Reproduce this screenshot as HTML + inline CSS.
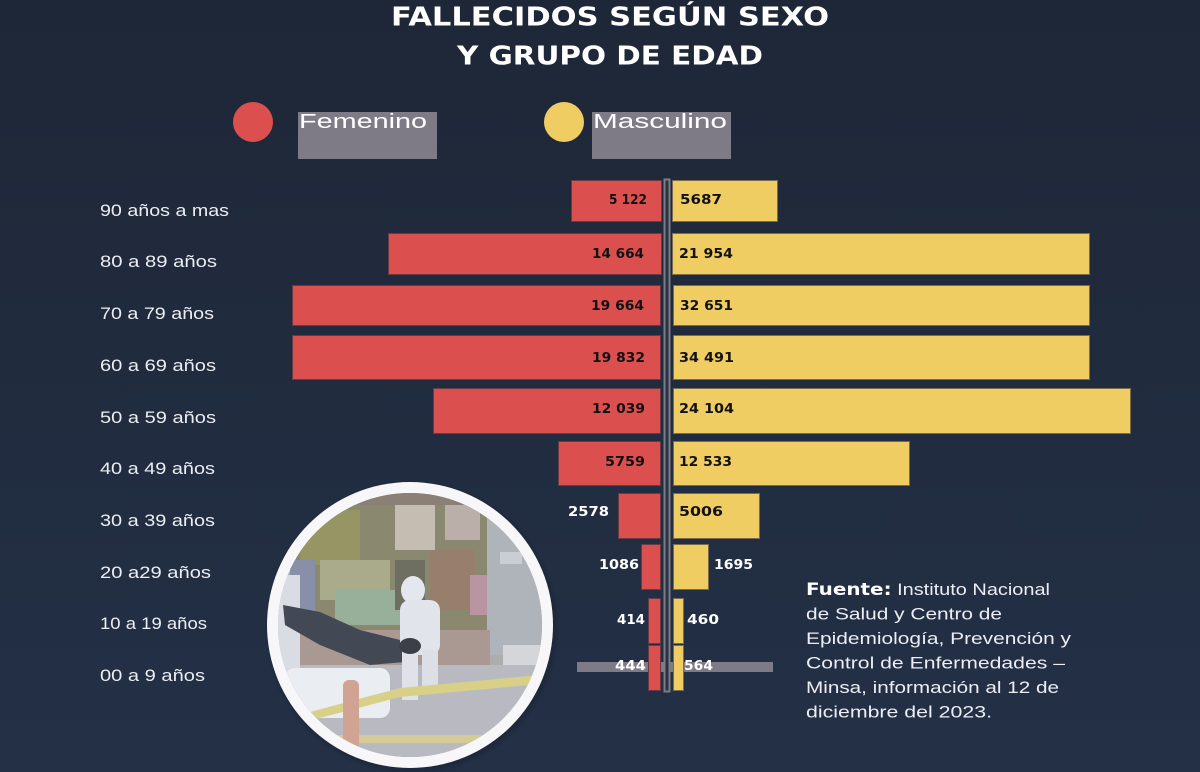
<!DOCTYPE html>
<html>
<head>
<meta charset="utf-8">
<style>
html,body{margin:0;padding:0;}
body{width:1200px;height:772px;overflow:hidden;background:#20293b;}
svg{display:block;}
.t{font-family:"DejaVu Sans","Liberation Sans",sans-serif;font-weight:bold;fill:#fff;}
.lab{font-family:"Liberation Sans",sans-serif;font-size:17px;fill:#eceef3;}
.v{font-family:"DejaVu Sans","Liberation Sans",sans-serif;font-weight:bold;font-size:13px;}
.vb{fill:#111;}
.vw{fill:#fff;}
.src{font-family:"Liberation Sans",sans-serif;font-size:17px;fill:#eceef3;}
.rb{fill:#dc4f4f;stroke:#6a3a42;stroke-width:1;}
.yb{fill:#f0cd62;stroke:#7c6c4c;stroke-width:1;}
</style>
</head>
<body>
<svg width="1200" height="772" viewBox="0 0 1200 772" xmlns="http://www.w3.org/2000/svg">
<defs>
<linearGradient id="bg" x1="0" y1="0" x2="0" y2="1">
<stop offset="0" stop-color="#1e2737"/>
<stop offset="1" stop-color="#233046"/>
</linearGradient>
<clipPath id="cp"><circle cx="410" cy="625" r="132"/></clipPath>
<radialGradient id="sh" cx="0.5" cy="0.5" r="0.5">
<stop offset="0.9" stop-color="#000" stop-opacity="0.35"/>
<stop offset="1" stop-color="#000" stop-opacity="0"/>
</radialGradient>
</defs>
<rect width="1200" height="772" fill="url(#bg)"/>

<!-- Title -->
<text class="t" x="391" y="25.5" font-size="26" textLength="438" lengthAdjust="spacingAndGlyphs">FALLECIDOS SEGÚN SEXO</text>
<text class="t" x="457" y="64.5" font-size="26" textLength="306" lengthAdjust="spacingAndGlyphs">Y GRUPO DE EDAD</text>

<!-- Legend -->
<circle cx="253" cy="122" r="20" fill="#dc4f4f"/>
<rect x="298" y="112" width="139" height="47" fill="#7e7b87"/>
<text x="299" y="128" font-family="Liberation Sans, sans-serif" font-size="20" fill="#fff" textLength="128" lengthAdjust="spacingAndGlyphs">Femenino</text>
<circle cx="564" cy="122" r="20" fill="#f0cd62"/>
<rect x="592" y="112" width="139" height="47" fill="#7e7b87"/>
<text x="593" y="128" font-family="Liberation Sans, sans-serif" font-size="20" fill="#fff" textLength="134" lengthAdjust="spacingAndGlyphs">Masculino</text>

<!-- Age labels -->
<text class="lab" x="100" y="216" textLength="129" lengthAdjust="spacingAndGlyphs">90 años a mas</text>
<text class="lab" x="100" y="267" textLength="117" lengthAdjust="spacingAndGlyphs">80 a 89 años</text>
<text class="lab" x="100" y="319" textLength="114" lengthAdjust="spacingAndGlyphs">70 a 79 años</text>
<text class="lab" x="100" y="371" textLength="116" lengthAdjust="spacingAndGlyphs">60 a 69 años</text>
<text class="lab" x="100" y="423" textLength="116" lengthAdjust="spacingAndGlyphs">50 a 59 años</text>
<text class="lab" x="100" y="474" textLength="115" lengthAdjust="spacingAndGlyphs">40 a 49 años</text>
<text class="lab" x="100" y="526" textLength="115" lengthAdjust="spacingAndGlyphs">30 a 39 años</text>
<text class="lab" x="100" y="578" textLength="111" lengthAdjust="spacingAndGlyphs">20 a29 años</text>
<text class="lab" x="100" y="629" textLength="107" lengthAdjust="spacingAndGlyphs">10 a 19 años</text>
<text class="lab" x="100" y="681" textLength="105" lengthAdjust="spacingAndGlyphs">00 a 9 años</text>

<!-- gray strip behind last row -->
<rect x="577" y="662" width="196" height="10" fill="#7e7b87"/>

<!-- Female bars -->
<rect class="rb" x="571.5" y="180.5" width="90" height="41"/>
<rect class="rb" x="388.5" y="233.5" width="273" height="41"/>
<rect class="rb" x="292.5" y="285.5" width="368" height="40"/>
<rect class="rb" x="292.5" y="335.5" width="368" height="44"/>
<rect class="rb" x="433.5" y="388.5" width="227" height="45"/>
<rect class="rb" x="558.5" y="441.5" width="102" height="44"/>
<rect class="rb" x="618.5" y="493.5" width="42" height="45"/>
<rect class="rb" x="641.5" y="544.5" width="19" height="45"/>
<rect class="rb" x="648.5" y="598.5" width="12" height="45"/>
<rect class="rb" x="648.5" y="645.5" width="12" height="45"/>

<!-- Male bars -->
<rect class="yb" x="672.5" y="180.5" width="105" height="41"/>
<rect class="yb" x="672.5" y="233.5" width="417" height="41"/>
<rect class="yb" x="673.5" y="285.5" width="416" height="40"/>
<rect class="yb" x="673.5" y="335.5" width="416" height="44"/>
<rect class="yb" x="673.5" y="388.5" width="457" height="45"/>
<rect class="yb" x="673.5" y="441.5" width="236" height="44"/>
<rect class="yb" x="673.5" y="493.5" width="86" height="45"/>
<rect class="yb" x="673.5" y="544.5" width="35" height="45"/>
<rect class="yb" x="673.5" y="598.5" width="10" height="45"/>
<rect class="yb" x="673.5" y="645.5" width="10" height="45"/>

<!-- center axis -->
<rect x="664.5" y="179.5" width="5" height="512" fill="#2a3344" stroke="#7d7d86" stroke-width="2"/>

<!-- values female -->
<text class="v vb" x="609" y="204" textLength="38" lengthAdjust="spacingAndGlyphs">5 122</text>
<text class="v vb" x="592" y="258" textLength="52" lengthAdjust="spacingAndGlyphs">14 664</text>
<text class="v vb" x="591" y="310" textLength="53" lengthAdjust="spacingAndGlyphs">19 664</text>
<text class="v vb" x="592" y="362" textLength="53" lengthAdjust="spacingAndGlyphs">19 832</text>
<text class="v vb" x="592" y="413" textLength="53" lengthAdjust="spacingAndGlyphs">12 039</text>
<text class="v vb" x="605" y="466" textLength="40" lengthAdjust="spacingAndGlyphs">5759</text>
<text class="v vw" x="568" y="516" textLength="41" lengthAdjust="spacingAndGlyphs">2578</text>
<text class="v vw" x="599" y="569" textLength="40" lengthAdjust="spacingAndGlyphs">1086</text>
<text class="v vw" x="617" y="624" textLength="28" lengthAdjust="spacingAndGlyphs">414</text>
<text class="v vw" x="615" y="670" textLength="31" lengthAdjust="spacingAndGlyphs">444</text>

<!-- values male -->
<text class="v vb" x="680" y="204" textLength="42" lengthAdjust="spacingAndGlyphs">5687</text>
<text class="v vb" x="679" y="258" textLength="54" lengthAdjust="spacingAndGlyphs">21 954</text>
<text class="v vb" x="680" y="310" textLength="53" lengthAdjust="spacingAndGlyphs">32 651</text>
<text class="v vb" x="679" y="362" textLength="55" lengthAdjust="spacingAndGlyphs">34 491</text>
<text class="v vb" x="679" y="413" textLength="55" lengthAdjust="spacingAndGlyphs">24 104</text>
<text class="v vb" x="679" y="466" textLength="53" lengthAdjust="spacingAndGlyphs">12 533</text>
<text class="v vb" x="679" y="516" textLength="44" lengthAdjust="spacingAndGlyphs">5006</text>
<text class="v vw" x="714" y="569" textLength="39" lengthAdjust="spacingAndGlyphs">1695</text>
<text class="v vw" x="687" y="624" textLength="32" lengthAdjust="spacingAndGlyphs">460</text>
<text class="v vw" x="684" y="670" textLength="29" lengthAdjust="spacingAndGlyphs">564</text>

<!-- Source -->
<text class="src" x="806" y="595" textLength="244" lengthAdjust="spacingAndGlyphs"><tspan font-family="DejaVu Sans, sans-serif" font-weight="bold" fill="#fff">Fuente:</tspan> Instituto Nacional</text>
<text class="src" x="806" y="619.5" textLength="196" lengthAdjust="spacingAndGlyphs">de Salud y Centro de</text>
<text class="src" x="806" y="644" textLength="265" lengthAdjust="spacingAndGlyphs">Epidemiología, Prevención y</text>
<text class="src" x="806" y="668.5" textLength="259" lengthAdjust="spacingAndGlyphs">Control de Enfermedades –</text>
<text class="src" x="806" y="693" textLength="253" lengthAdjust="spacingAndGlyphs">Minsa, información al 12 de</text>
<text class="src" x="806" y="717.5" textLength="186" lengthAdjust="spacingAndGlyphs">diciembre del 2023.</text>

<!-- Photo circle -->
<circle cx="412" cy="628" r="148" fill="url(#sh)"/>
<circle cx="410" cy="625" r="143" fill="#f7f7f9"/>
<g clip-path="url(#cp)">
  <rect x="270" y="490" width="280" height="270" fill="#a7a6a4"/>
  <!-- ceiling -->
  <rect x="270" y="490" width="280" height="18" fill="#7f7266"/>
  <!-- shop interior -->
  <rect x="290" y="505" width="200" height="125" fill="#7f7c5e"/>
  <rect x="300" y="510" width="60" height="55" fill="#8f8a52"/>
  <rect x="395" y="505" width="40" height="45" fill="#c2b8aa"/>
  <rect x="430" y="550" width="45" height="60" fill="#8e705c"/>
  <rect x="445" y="505" width="35" height="35" fill="#b7a9a0"/>
  <rect x="320" y="560" width="70" height="40" fill="#a3a37e"/>
  <rect x="335" y="590" width="75" height="35" fill="#8fa88e"/>
  <rect x="395" y="560" width="30" height="50" fill="#5f5e4e"/>
  <rect x="470" y="575" width="20" height="40" fill="#b48a9a"/>
  <!-- right wall -->
  <rect x="487" y="515" width="70" height="140" fill="#a9adb4"/>
  <rect x="500" y="552" width="22" height="12" fill="#c8cad0"/>
  <rect x="503" y="645" width="40" height="32" fill="#d4d4d8"/>
  <!-- left pillar -->
  <rect x="290" y="560" width="25" height="70" fill="#7d84a0"/>
  <!-- steps -->
  <rect x="290" y="630" width="200" height="35" fill="#a38e86"/>
  <!-- ground -->
  <rect x="270" y="665" width="280" height="100" fill="#b4b4bb"/>
  <!-- left figure -->
  <rect x="270" y="575" width="30" height="110" fill="#d9dbe2"/>
  <!-- black bag -->
  <polygon points="283,605 320,612 360,630 400,640 405,662 370,665 320,645 285,625" fill="#2e3340"/>
  <!-- person in white -->
  <ellipse cx="413" cy="590" rx="12" ry="14" fill="#e6e8ee"/>
  <rect x="400" y="600" width="40" height="55" rx="10" fill="#e2e4ea"/>
  <rect x="402" y="650" width="16" height="50" fill="#e0e2e8"/>
  <rect x="422" y="650" width="16" height="40" fill="#dcdee4"/>
  <ellipse cx="410" cy="646" rx="11" ry="8" fill="#26292f"/>
  <!-- white sheet -->
  <rect x="285" y="668" width="105" height="50" rx="10" fill="#eceef3"/>
  <!-- tape -->
  <polygon points="310,712 400,688 540,675 540,684 400,697 312,720" fill="#d9cd7a"/>
  <polygon points="300,770 540,765 540,772 300,772" fill="#d9cd7a"/>
  <rect x="325" y="735" width="160" height="8" fill="#d4c88a"/>
  <!-- pole -->
  <rect x="343" y="680" width="16" height="70" rx="6" fill="#cf9a86"/>
  <!-- wash overlay -->
  <rect x="270" y="480" width="290" height="290" fill="#dfe4f0" opacity="0.12"/>
</g>
</svg>
</body>
</html>
